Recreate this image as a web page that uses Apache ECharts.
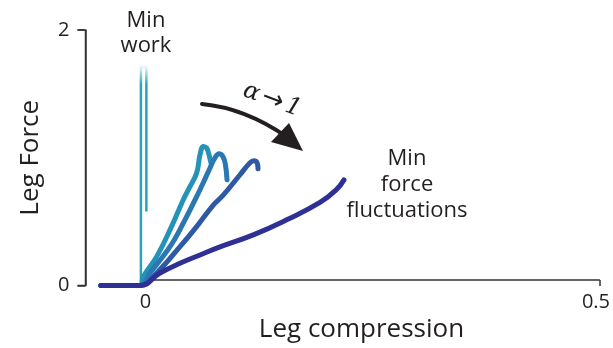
<!DOCTYPE html>
<html>
<head>
<meta charset="utf-8">
<script src="https://cdn.jsdelivr.net/npm/echarts@6/dist/echarts.min.js"></script>
<style>
html,body{margin:0;padding:0;background:#fff;}
#chart{width:613px;height:348px;}
</style>
</head>
<body>
<div id="chart"></div>
<script>
// Tick labels
var xTicks = [0, 0.5];
var yTicks = [0, 2];

// Series: [leg compression, leg force]
var minWorkCurve = [[-0.049,0],[-0.005,0],[-0.005,1.71],[0.001,1.71],[0.001,0.58]];
var curveA = [[-0.049,0],[-0.006,0],[-0.0024,0.069],[0.0123,0.226],[0.027,0.435],[0.0416,0.671],[0.0468,0.745],[0.0563,0.880],[0.060,1.024],[0.0636,1.089],[0.0673,1.076],[0.0699,1.024],[0.072,0.96]];
var curveB = [[-0.049,0],[-0.006,0],[0.005,0.098],[0.027,0.304],[0.0416,0.488],[0.0563,0.696],[0.0633,0.800],[0.071,0.92],[0.0765,1.0],[0.0809,1.031],[0.0853,1.008],[0.088,0.945],[0.0897,0.827]];
var curveC = [[-0.049,0],[-0.006,0],[0.0123,0.098],[0.038,0.304],[0.0563,0.461],[0.0746,0.630],[0.0853,0.705],[0.104,0.867],[0.115,0.961],[0.1194,0.976],[0.1227,0.961],[0.1238,0.914]];
var minFluctCurve = [[-0.049,0],[-0.006,0],[0.016,0.098],[0.038,0.174],[0.060,0.239],[0.082,0.302],[0.1186,0.396],[0.1553,0.514],[0.192,0.650],[0.210,0.750],[0.2184,0.827]];

var colors = ['#27a3b5', '#2592b8', '#2a77b1', '#3059a3', '#2e3193'];

var chart = echarts.init(document.getElementById('chart'), null, {renderer:'canvas'});
var FONT = 'Open Sans';
var TXT = '#231f20';
var AX = '#333';

function lineSeries(data, color, width, smooth, z) {
  return {
    type:'line', xAxisIndex:0, yAxisIndex:0, data:data, showSymbol:false, symbol:'none',
    smooth:smooth, z:z, animation:false,
    lineStyle:{color:color, width:width, cap:'round', join:'round'}
  };
}

var baseGraphic = [
  {id:'t1', type:'text', z:10, style:{text:'Min\nwork', x:146, y:8, align:'center', verticalAlign:'top',
    font:'22px "Open Sans"', lineHeight:25, fill:TXT}},
  {id:'t2', type:'text', z:10, style:{text:'Min\nforce\nfluctuations', x:407, y:146, align:'center', verticalAlign:'top',
    font:'22px "Open Sans"', lineHeight:26, fill:TXT}},
  {id:'t3', type:'text', z:10, x:272, y:100, rotation:-0.35,
    style:{text:'{a|α} {b|→} {a|1}', align:'center', verticalAlign:'middle',
      rich:{a:{fontFamily:'DejaVu Serif', fontStyle:'italic', fontSize:24, fill:TXT},
            b:{fontFamily:'DejaVu Sans', fontSize:26, fill:TXT}}}},
  {id:'arc', type:'bezierCurve', z:10, shape:{x1:202, y1:104, cpx1:245, cpy1:108, x2:287, y2:137},
    style:{stroke:'#231f20', lineWidth:4, fill:null, lineCap:'round'}},
  {id:'head', type:'polygon', z:10, shape:{points:[[303,151],[271,142],[289,123]]}, style:{fill:'#231f20'}}
];

var option = {
  animation:false,
  grid:[
    {left:100, right:13, top:30, bottom:62.5},
    {left:145.5, right:13, top:30, bottom:49.5},
    {left:85.5, right:13, top:30, bottom:62.5}
  ],
  xAxis:[
    {gridIndex:0, type:'value', min:-0.05, max:0.5, show:false},
    {gridIndex:1, type:'value', min:xTicks[0], max:xTicks[1], interval:0.5,
     axisLine:{show:true, onZero:false, lineStyle:{color:AX, width:1.5}},
     axisTick:{show:true, length:6, lineStyle:{color:AX, width:1.5}},
     splitLine:{show:false},
     axisLabel:{margin:12, color:TXT, fontFamily:FONT, fontSize:20,
       formatter:function(v){ return v===0.5 ? '{r|0.5}' : String(v); },
       rich:{r:{fontFamily:FONT, fontSize:20, color:TXT, padding:[0,7,0,0]}}},
     name:'Leg compression', nameLocation:'middle', nameGap:19,
     nameTextStyle:{fontFamily:FONT, fontSize:26, color:TXT, padding:[0,22,0,0], verticalAlign:'top'}
    },
    {gridIndex:2, type:'value', min:0, max:1, show:false}
  ],
  yAxis:[
    {gridIndex:0, type:'value', min:yTicks[0], max:yTicks[1], show:false},
    {gridIndex:1, type:'value', min:0, max:1, show:false},
    {gridIndex:2, type:'value', min:yTicks[0], max:yTicks[1], interval:2, show:true, position:'left',
     axisLine:{show:true, lineStyle:{color:AX, width:1.5}},
     axisTick:{show:true, inside:false, length:8, lineStyle:{color:AX, width:1.5}},
     splitLine:{show:false},
     axisLabel:{margin:16, color:TXT, fontFamily:FONT, fontSize:20},
     name:'Leg Force', nameLocation:'middle', nameGap:42,
     nameTextStyle:{fontFamily:FONT, fontSize:26, color:TXT}
    }
  ],
  series:[
    {
      type:'line', xAxisIndex:0, yAxisIndex:0, data:minWorkCurve, showSymbol:false, symbol:'none',
      smooth:false, z:2,
      lineStyle:{width:2.5, cap:'butt', join:'round',
        color:new echarts.graphic.LinearGradient(0,0,0,1,[
          {offset:0, color:'rgba(39,163,181,0)'},
          {offset:0.09, color:'rgba(39,163,181,1)'},
          {offset:1, color:'rgba(39,163,181,1)'}
        ])}
    },
    lineSeries(curveA, colors[1], 5, 0.4, 3),
    lineSeries(curveB, colors[2], 5, 0.4, 4),
    lineSeries(curveC, colors[3], 5, 0.4, 5),
    lineSeries(minFluctCurve, colors[4], 5, 0.45, 6)
  ],
  graphic: baseGraphic
};
chart.setOption(option);

// Y-axis line and ticks, placed through the y axis scale
var axX = chart.convertToPixel({xAxisIndex:2}, 0);
var yPix = yTicks.map(function(v){ return chart.convertToPixel({yAxisIndex:2}, v); });
var extra = [
  {id:'yline', type:'line', z:1, shape:{x1:axX, y1:yPix[1], x2:axX, y2:yPix[0]},
   style:{stroke:AX, lineWidth:1.5}}
];
yPix.forEach(function(p, i){
  extra.push({id:'ytick'+i, type:'line', z:1, shape:{x1:axX-8, y1:p, x2:axX, y2:p},
    style:{stroke:AX, lineWidth:1.5}});
});
chart.setOption({graphic: baseGraphic.concat(extra)});
</script>
</body>
</html>
